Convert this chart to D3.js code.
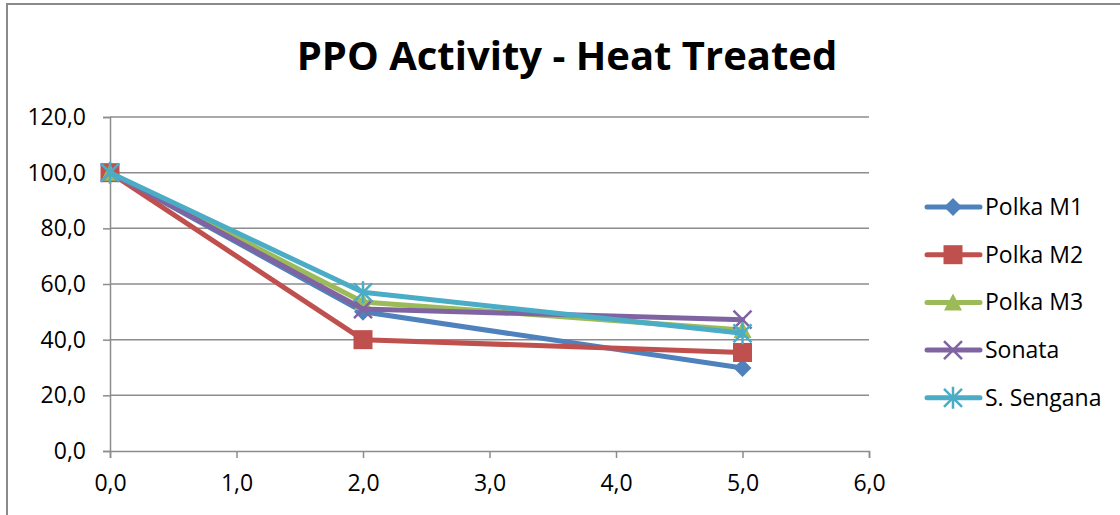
<!DOCTYPE html>
<html>
<head>
<meta charset="utf-8" />
<title>PPO Activity - Heat Treated</title>
<script src="https://cdn.jsdelivr.net/npm/d3@7/dist/d3.min.js"></script>
<style>
  body { margin: 0; background: #fff; }
  text { font-family: "Open Sans", sans-serif; fill: #000; }
</style>
</head>
<body>
<svg id="chart" width="1120" height="515"></svg>
<script>
// data
var xValues = [0, 2, 5];
var polkaM1 = [100, 50, 29.8];
var polkaM2 = [100, 40, 35.4];
var polkaM3 = [100, 53.5, 43.5];
var sonata = [100, 51, 47.2];
var sengana = [100, 57, 42.3];
var seriesNames = ["Polka M1", "Polka M2", "Polka M3", "Sonata", "S. Sengana"];
var yTicks = [0, 20, 40, 60, 80, 100, 120];
var xTicks = [0, 1, 2, 3, 4, 5, 6];

var colors = ["#4F81BD", "#C0504D", "#9BBB59", "#8064A2", "#4BACC6"];
var markers = ["diamond", "square", "triangle", "x", "star"];
var allSeries = [polkaM1, polkaM2, polkaM3, sonata, sengana];

var svg = d3.select("#chart");

// chart border (right/bottom run off the picture)
svg.append("rect")
  .attr("x", 7).attr("y", 4)
  .attr("width", 1130).attr("height", 530)
  .attr("fill", "#fff")
  .attr("stroke", "#8a8a8a").attr("stroke-width", 2);

var x = d3.scaleLinear().domain([0, 6]).range([110, 869]);
var y = d3.scaleLinear().domain([0, 120]).range([451, 117]);

function fmt(v) { return d3.format(".1f")(v).replace(".", ","); }

// gridlines
svg.append("g").selectAll("line")
  .data(yTicks.slice(1))
  .enter().append("line")
  .attr("x1", x(0)).attr("x2", x(6))
  .attr("y1", function (d) { return y(d); })
  .attr("y2", function (d) { return y(d); })
  .attr("stroke", "#8c8c8c").attr("stroke-width", 1.5);

// axes
var yAxis = svg.append("g")
  .attr("transform", "translate(" + x(0) + ",0)")
  .call(d3.axisLeft(y).tickValues(yTicks).tickFormat(fmt).tickSize(7).tickPadding(17));
var xAxis = svg.append("g")
  .attr("transform", "translate(0," + y(0) + ")")
  .call(d3.axisBottom(x).tickValues(xTicks).tickFormat(fmt).tickSize(7).tickPadding(17));
[yAxis, xAxis].forEach(function (a) {
  a.select(".domain").attr("stroke", "#8c8c8c").attr("stroke-width", 1.5);
  a.selectAll(".tick line").attr("stroke", "#8c8c8c").attr("stroke-width", 1.5);
  a.selectAll(".tick text").attr("font-size", 23).attr("fill", "#000")
    .style("font-family", "'Open Sans', sans-serif");
});

function drawMarker(g, type, color, cx, cy) {
  if (type === "diamond") {
    g.append("path").attr("d", "M" + cx + "," + (cy - 9) + "L" + (cx + 9) + "," + cy + "L" + cx + "," + (cy + 9) + "L" + (cx - 9) + "," + cy + "Z")
      .attr("fill", color);
  } else if (type === "square") {
    g.append("rect").attr("x", cx - 9.5).attr("y", cy - 9.5).attr("width", 19).attr("height", 19)
      .attr("fill", color);
  } else if (type === "triangle") {
    g.append("path").attr("d", "M" + cx + "," + (cy - 9) + "L" + (cx + 9) + "," + (cy + 8) + "L" + (cx - 9) + "," + (cy + 8) + "Z")
      .attr("fill", color);
  } else if (type === "x") {
    g.append("path").attr("d", "M" + (cx - 9) + "," + (cy - 9) + "L" + (cx + 9) + "," + (cy + 9) + "M" + (cx + 9) + "," + (cy - 9) + "L" + (cx - 9) + "," + (cy + 9))
      .attr("stroke", color).attr("stroke-width", 2.5).attr("fill", "none");
  } else {
    g.append("path").attr("d", "M" + (cx - 9) + "," + (cy - 9) + "L" + (cx + 9) + "," + (cy + 9) + "M" + (cx + 9) + "," + (cy - 9) + "L" + (cx - 9) + "," + (cy + 9) + "M" + cx + "," + (cy - 11) + "L" + cx + "," + (cy + 11))
      .attr("stroke", color).attr("stroke-width", 2.5).attr("fill", "none");
  }
}

var line = d3.line()
  .x(function (d) { return x(d[0]); })
  .y(function (d) { return y(d[1]); });

allSeries.forEach(function (vals, i) {
  var pts = xValues.map(function (xv, j) { return [xv, vals[j]]; });
  var g = svg.append("g");
  g.append("path").datum(pts)
    .attr("d", line)
    .attr("fill", "none")
    .attr("stroke", colors[i])
    .attr("stroke-width", 5)
    .attr("stroke-linejoin", "round")
    .attr("stroke-linecap", "round");
  pts.forEach(function (p) { drawMarker(g, markers[i], colors[i], x(p[0]), y(p[1])); });
});

// legend
var legend = svg.append("g");
seriesNames.forEach(function (name, i) {
  var ly = 207 + i * 47.7;
  var g = legend.append("g");
  g.append("line").attr("x1", 927).attr("x2", 980).attr("y1", ly).attr("y2", ly)
    .attr("stroke", colors[i]).attr("stroke-width", 5).attr("stroke-linecap", "round");
  drawMarker(g, markers[i], colors[i], 953, ly);
  g.append("text").attr("x", 985).attr("y", ly + 8).attr("font-size", 23).text(name);
});

// title
svg.append("text")
  .attr("x", 567).attr("y", 70)
  .attr("text-anchor", "middle")
  .attr("font-size", 40).attr("font-weight", "bold")
  .text("PPO Activity - Heat Treated");
</script>
</body>
</html>
